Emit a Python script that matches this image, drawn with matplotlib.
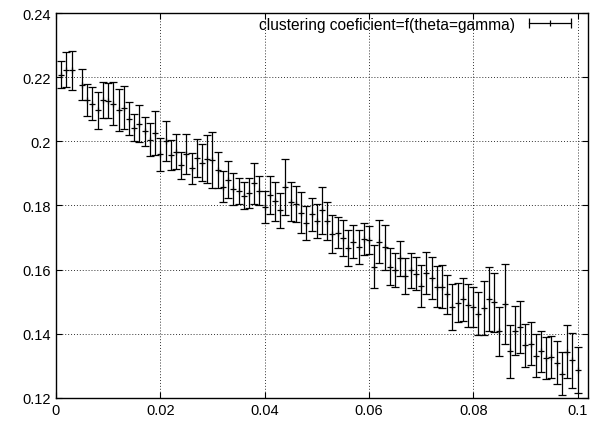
import matplotlib
matplotlib.use("Agg")
import matplotlib.pyplot as plt
from matplotlib.lines import Line2D
from matplotlib.legend_handler import HandlerLine2D, HandlerTuple

# ============================================================
# Data
# ============================================================
theta = [
    0.001, 0.002, 0.003, 0.005, 0.006, 0.007, 0.008, 0.009, 0.010,
    0.011, 0.012, 0.013, 0.014, 0.015, 0.016, 0.017, 0.018, 0.019, 0.020,
    0.021, 0.022, 0.023, 0.024, 0.025, 0.026, 0.027, 0.028, 0.029, 0.030,
    0.031, 0.032, 0.033, 0.034, 0.035, 0.036, 0.037, 0.038, 0.039, 0.040,
    0.041, 0.042, 0.043, 0.044, 0.045, 0.046, 0.047, 0.048, 0.049, 0.050,
    0.051, 0.052, 0.053, 0.054, 0.055, 0.056, 0.057, 0.058, 0.059, 0.060,
    0.061, 0.062, 0.063, 0.064, 0.065, 0.066, 0.067, 0.068, 0.069, 0.070,
    0.071, 0.072, 0.073, 0.074, 0.075, 0.076, 0.077, 0.078, 0.079, 0.080,
    0.081, 0.082, 0.083, 0.084, 0.085, 0.086, 0.087, 0.088, 0.089, 0.090,
    0.091, 0.092, 0.093, 0.094, 0.095, 0.096, 0.097, 0.098, 0.099, 0.100,
]

clustering = [
    0.2208, 0.2223, 0.2222, 0.2177, 0.2128, 0.2117, 0.2097, 0.2128, 0.2127,
    0.2117, 0.2097, 0.2104, 0.2071, 0.2042, 0.2055, 0.2031, 0.2005, 0.2026, 0.1959,
    0.2000, 0.1958, 0.1968, 0.1925, 0.1961, 0.1916, 0.1948, 0.1934, 0.1945, 0.1941,
    0.1911, 0.1859, 0.1881, 0.1850, 0.1845, 0.1831, 0.1839, 0.1869, 0.1846, 0.1796,
    0.1832, 0.1813, 0.1785, 0.1858, 0.1812, 0.1805, 0.1777, 0.1744, 0.1772, 0.1752,
    0.1785, 0.1752, 0.1712, 0.1715, 0.1699, 0.1667, 0.1687, 0.1671, 0.1697, 0.1692,
    0.1609, 0.1687, 0.1670, 0.1609, 0.1599, 0.1635, 0.1579, 0.1598, 0.1588, 0.1550,
    0.1590, 0.1573, 0.1547, 0.1546, 0.1523, 0.1483, 0.1497, 0.1507, 0.1489, 0.1483,
    0.1462, 0.1481, 0.1509, 0.1498, 0.1408, 0.1493, 0.1345, 0.1410, 0.1421, 0.1364,
    0.1369, 0.1332, 0.1345, 0.1325, 0.1328, 0.1310, 0.1276, 0.1344, 0.1318, 0.1287,
]

errors = [
    0.0042, 0.0055, 0.0061, 0.0048, 0.0050, 0.0051, 0.0058, 0.0056, 0.0054,
    0.0067, 0.0065, 0.0067, 0.0051, 0.0042, 0.0058, 0.0045, 0.0052, 0.0070, 0.0050,
    0.0062, 0.0047, 0.0055, 0.0042, 0.0062, 0.0048, 0.0058, 0.0059, 0.0074, 0.0087,
    0.0056, 0.0048, 0.0058, 0.0050, 0.0040, 0.0043, 0.0047, 0.0063, 0.0045, 0.0049,
    0.0059, 0.0060, 0.0055, 0.0087, 0.0061, 0.0056, 0.0064, 0.0053, 0.0050, 0.0053,
    0.0073, 0.0059, 0.0059, 0.0048, 0.0055, 0.0057, 0.0052, 0.0054, 0.0050, 0.0044,
    0.0067, 0.0067, 0.0070, 0.0058, 0.0054, 0.0054, 0.0056, 0.0055, 0.0050, 0.0066,
    0.0066, 0.0066, 0.0064, 0.0067, 0.0061, 0.0072, 0.0061, 0.0067, 0.0067, 0.0062,
    0.0067, 0.0085, 0.0099, 0.0092, 0.0077, 0.0126, 0.0082, 0.0076, 0.0081, 0.0066,
    0.0067, 0.0066, 0.0065, 0.0065, 0.0066, 0.0067, 0.0066, 0.0082, 0.0086, 0.0073,
]

x_ticks = [0, 0.02, 0.04, 0.06, 0.08, 0.1]
x_labels = ["0", "0.02", "0.04", "0.06", "0.08", "0.1"]
y_ticks = [0.12, 0.14, 0.16, 0.18, 0.2, 0.22, 0.24]
y_labels = ["0.12", "0.14", "0.16", "0.18", "0.2", "0.22", "0.24"]

series_label = "clustering coeficient=f(theta=gamma)"

# ============================================================
# Plot
# ============================================================
plt.rcParams.update({
    "font.family": ["Liberation Sans", "DejaVu Sans"],
    "font.size": 10,
})

fig = plt.figure(figsize=(6.0, 4.27), dpi=100)
ax = fig.add_axes([0.0933, 0.0656, 0.8867, 0.9016])

ax.errorbar(theta, clustering, yerr=errors, fmt="+", color="black",
            ecolor="black", elinewidth=0.9, capsize=3.2, capthick=0.9,
            markersize=5, markeredgewidth=0.9)

ax.set_xlim(0, 0.102)
ax.set_ylim(0.12, 0.24)
ax.set_xticks(x_ticks)
ax.set_xticklabels(x_labels)
ax.set_yticks(y_ticks)
ax.set_yticklabels(y_labels)

ax.tick_params(direction="in", top=True, right=True, length=4, width=0.8,
               labelsize=10.5)
ax.grid(True, linestyle=(0, (1, 2)), linewidth=0.7, color="black", alpha=0.8)
for spine in ax.spines.values():
    spine.set_linewidth(1.0)

# gnuplot style key sample: horizontal bar with end caps and a centre tick
bar = Line2D([], [], color="black", linewidth=0.9, marker="|",
             markersize=7, markeredgewidth=0.9)
tick = Line2D([], [], color="black", linestyle="none", marker="|",
              markersize=4, markeredgewidth=0.9)
ax.legend([(bar, tick)], [series_label], loc="upper right",
          bbox_to_anchor=(0.985, 1.0), frameon=False,
          markerfirst=False, fontsize=11.2, handlelength=3.3,
          borderaxespad=0.0, borderpad=0.25, handletextpad=0.6,
          handler_map={bar: HandlerLine2D(numpoints=2),
                       tick: HandlerLine2D(numpoints=1),
                       tuple: HandlerTuple(ndivide=1, pad=0)})

fig.savefig("out.png", dpi=100)
